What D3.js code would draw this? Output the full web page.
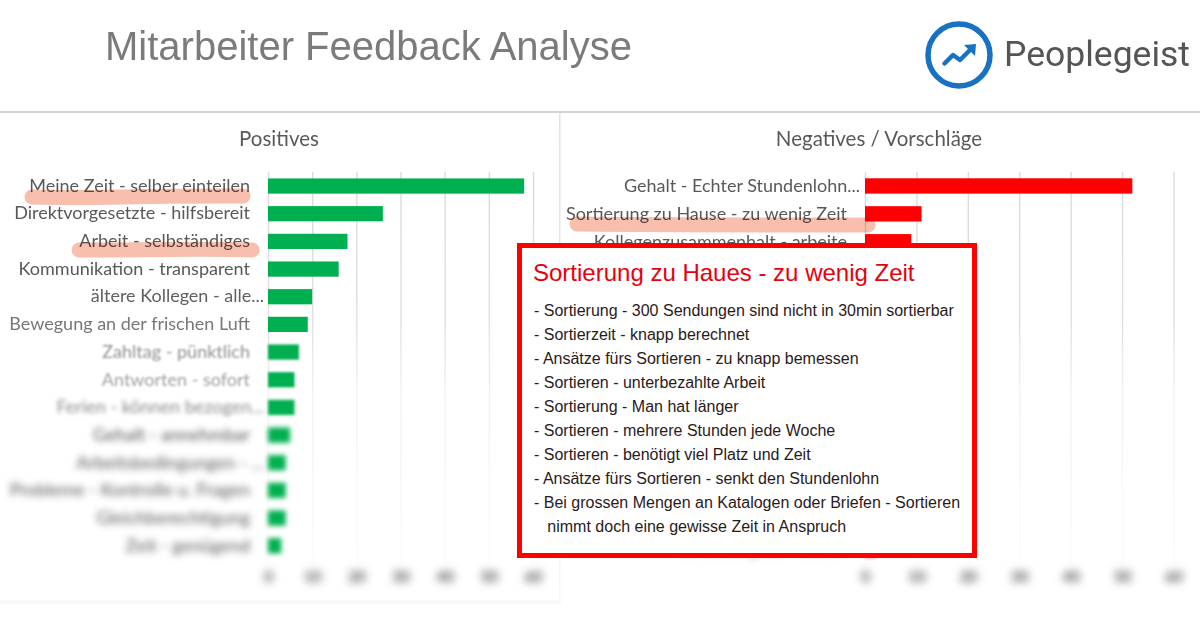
<!DOCTYPE html>
<html lang="de">
<head>
<meta charset="utf-8">
<title>Mitarbeiter Feedback Analyse</title>
<script src="https://cdn.jsdelivr.net/npm/d3@7/dist/d3.min.js"></script>
<style>
  html, body { margin: 0; padding: 0; background: #fff; }
  svg { display: block; }
  .cat { font-family: Lato, "Open Sans", sans-serif; font-size: 18px; }
  .panel-title { font-family: Lato, "Open Sans", sans-serif; font-size: 20.5px; fill: #595959; text-anchor: middle; }
  .detail { font-family: "Liberation Sans", Arial, sans-serif; font-size: 16px; fill: #2a1a1a; }
</style>
</head>
<body>
<div id="chart"></div>
<script>
// Positive mentions, most frequent first
const posCategories = [
  "Meine Zeit - selber einteilen", "Direktvorgesetzte - hilfsbereit", "Arbeit - selbständiges",
  "Kommunikation - transparent", "ältere Kollegen - alle...", "Bewegung an der frischen Luft",
  "Zahltag - pünktlich", "Antworten - sofort", "Ferien - können bezogen...",
  "Gehalt - annehmbar", "Arbeitsbedingungen - ...", "Probleme - Kontrolle u. Fragen",
  "Gleichberechtigung", "Zeit - genügend"
];
const posValues = [58, 26, 18, 16, 10, 9, 7, 6, 6, 5, 4, 4, 4, 3];
const posRows = d3.range(posCategories.length);

// Negative mentions that stay legible around the detail box, with their row positions
const negCategories = ["Gehalt - Echter Stundenlohn...", "Sortierung zu Hause - zu wenig Zeit", "Kollegenzusammenhalt - arbeite", "Einteilung der Touren"];
const negValues = [52, 11, 9, 2];
const negRows = [0, 1, 2, 13];

const axisTicks = [0, 10, 20, 30, 40, 50, 60];
const rowCount = 14;

const detailTitle = "Sortierung zu Haues - zu wenig Zeit";
const detailLines = [
  "- Sortierung - 300 Sendungen sind nicht in 30min sortierbar",
  "- Sortierzeit - knapp berechnet",
  "- Ansätze fürs Sortieren - zu knapp bemessen",
  "- Sortieren - unterbezahlte Arbeit",
  "- Sortierung - Man hat länger",
  "- Sortieren - mehrere Stunden jede Woche",
  "- Sortieren - benötigt viel Platz und Zeit",
  "- Ansätze fürs Sortieren - senkt den Stundenlohn",
  "- Bei grossen Mengen an Katalogen oder Briefen - Sortieren",
  "   nimmt doch eine gewisse Zeit in Anspruch"
];

// The lower rows of each panel are progressively obscured
const barBlur = [0, 0, 0, 0, 0.3, 0.7, 1, 1.3, 1.8, 2.4, 2.8, 2.8, 2.8, 2.8];
const textBlur = [0, 0, 0, 0, 0.3, 0.7, 1, 1.3, 2, 3, 3.5, 3.5, 3.5, 3.5];
const rowInk = ["#595959", "#595959", "#595959", "#595959", "#606060", "#777", "#909090", "#a0a0a0", "#888", "#555", "#555", "#555", "#555", "#555"];
const tickBlur = 4;

const svg = d3.select("#chart").append("svg").attr("width", 1200).attr("height", 628);
const defs = svg.append("defs");

function blurId(sd) { return "soft" + String(sd).replace(".", "_"); }
[...new Set([...barBlur, ...textBlur, tickBlur].filter(d => d > 0))].forEach(sd => {
  defs.append("filter").attr("id", blurId(sd))
    .attr("x", "-80%").attr("y", "-80%").attr("width", "260%").attr("height", "260%")
    .attr("color-interpolation-filters", "sRGB")
    .append("feGaussianBlur").attr("stdDeviation", sd);
});

// Gridline fade, in the coordinates of the axis group (zero at the axis, negative upward)
const gridFade = defs.append("linearGradient").attr("id", "gridFade")
  .attr("gradientUnits", "userSpaceOnUse").attr("x1", 0).attr("x2", 0).attr("y1", -393).attr("y2", 0);
gridFade.append("stop").attr("offset", "0").attr("stop-color", "#dadada");
gridFade.append("stop").attr("offset", "0.38").attr("stop-color", "#e0e0e0");
gridFade.append("stop").attr("offset", "0.56").attr("stop-color", "#f2f2f2");
gridFade.append("stop").attr("offset", "1").attr("stop-color", "#fbfbfb");

const edgeFade = defs.append("linearGradient").attr("id", "edgeFade")
  .attr("gradientUnits", "userSpaceOnUse").attr("x1", 0).attr("x2", 0).attr("y1", 113).attr("y2", 600);
edgeFade.append("stop").attr("offset", "0").attr("stop-color", "#e2e2e2");
edgeFade.append("stop").attr("offset", "0.6").attr("stop-color", "#eeeeee");
edgeFade.append("stop").attr("offset", "1").attr("stop-color", "#f8f8f8");

// Page heading
svg.append("text").attr("x", 105).attr("y", 60)
  .style("font-family", '"Liberation Sans", Arial, sans-serif').style("font-size", "40px").attr("fill", "#7b7b7b")
  .text("Mitarbeiter Feedback Analyse");

// Brand mark and name
const logo = svg.append("g");
logo.append("circle").attr("cx", 959).attr("cy", 55).attr("r", 31)
  .attr("fill", "none").attr("stroke", "#1872c4").attr("stroke-width", 5.5);
logo.append("path").attr("d", "M944.5 63.5 L953 55 L960 60 L970 50")
  .attr("fill", "none").attr("stroke", "#1872c4").attr("stroke-width", 4.5).attr("stroke-linecap", "round").attr("stroke-linejoin", "round");
logo.append("path").attr("d", "M964 45 L976 44 L975 56 Z").attr("fill", "#1872c4");
svg.append("text").attr("x", 1004).attr("y", 66)
  .style("font-family", "Roboto, sans-serif").style("font-size", "35.5px").attr("fill", "#555")
  .text("Peoplegeist");

// Sheet frame: top rule, panel divider, bottom edge
svg.append("rect").attr("x", 0).attr("y", 111).attr("width", 1200).attr("height", 2).attr("fill", "#d4d4d4");
svg.append("rect").attr("x", 559).attr("y", 113).attr("width", 1.5).attr("height", 487).attr("fill", "url(#edgeFade)");
svg.append("rect").attr("x", 0).attr("y", 600).attr("width", 561).attr("height", 4).attr("fill", "#f9f9f9");

function drawPanel(cfg) {
  const x = d3.scaleLinear().domain([0, 60]).range(cfg.xRange);
  const y = d3.scaleBand().domain(d3.range(rowCount)).range(cfg.yRange).paddingInner(0.45).paddingOuter(0.225);
  const g = svg.append("g");

  g.append("text").attr("class", "panel-title").attr("x", cfg.titleX).attr("y", 146).text(cfg.title);

  // Gridlines and tick labels come from one bottom axis
  const axisY = 565;
  const axis = g.append("g").attr("transform", `translate(0,${axisY})`)
    .call(d3.axisBottom(x).tickValues(axisTicks).tickSize(-(axisY - 172)).tickPadding(6));
  axis.select(".domain").remove();
  axis.selectAll(".tick line").attr("stroke", "url(#gridFade)").attr("stroke-width", 1.4);
  axis.selectAll(".tick text")
    .attr("fill", "#444").attr("filter", `url(#${blurId(tickBlur)})`)
    .style("font-family", "Lato, sans-serif").style("font-size", "15px").style("font-weight", "700");

  // Category labels
  const rows = cfg.categories.map((name, i) => ({ name, value: cfg.values[i], row: cfg.rows[i] }));
  const yAxis = g.append("g").attr("transform", `translate(${cfg.xRange[0]},0)`)
    .call(d3.axisLeft(y).tickValues(cfg.rows).tickSize(0).tickPadding(cfg.labelGap)
      .tickFormat(r => cfg.categories[cfg.rows.indexOf(r)]));
  yAxis.select(".domain").remove();
  yAxis.selectAll(".tick text")
    .attr("class", "cat")
    .attr("dx", r => cfg.categories[cfg.rows.indexOf(r)].endsWith("...") ? cfg.ellipsisShift : 0)
    .attr("fill", r => rowInk[r])
    .attr("filter", r => textBlur[r] ? `url(#${blurId(textBlur[r])})` : null);

  // Bars
  g.selectAll("rect.bar").data(rows).join("rect")
    .attr("class", "bar")
    .attr("x", x(0))
    .attr("y", d => y(d.row))
    .attr("width", d => x(d.value) - x(0))
    .attr("height", y.bandwidth())
    .attr("fill", cfg.color)
    .attr("filter", d => barBlur[d.row] ? `url(#${blurId(barBlur[d.row])})` : null);
}

drawPanel({
  title: "Positives", titleX: 279, color: "#00b050",
  categories: posCategories, values: posValues, rows: posRows,
  xRange: [268, 533], yRange: [172.2, 559.6], labelGap: 18, ellipsisShift: 14
});
drawPanel({
  title: "Negatives / Vorschläge", titleX: 879, color: "#ff0000",
  categories: negCategories, values: negValues, rows: negRows,
  xRange: [865, 1173.5], yRange: [172, 562.6], labelGap: 18, ellipsisShift: 13
});

// Marker strokes over the labels that are being discussed
const marker = d3.line().curve(d3.curveBasis);
const strokes = [
  [[32, 197], [90, 198], [170, 196], [243, 196]],
  [[79, 250], [140, 250], [200, 249], [252, 250]],
  [[577, 224], [680, 225], [780, 225], [868, 225]]
];
svg.selectAll("path.marker").data(strokes).join("path")
  .attr("class", "marker")
  .attr("d", marker)
  .attr("fill", "none")
  .attr("stroke", "#f8bfae")
  .attr("stroke-width", 15)
  .attr("stroke-linecap", "round")
  .style("mix-blend-mode", "multiply");

// Detail box for the highlighted negative topic
svg.append("rect").attr("x", 519.5).attr("y", 245.5).attr("width", 455).attr("height", 310)
  .attr("fill", "#fff").attr("stroke", "#ff0000").attr("stroke-width", 5);
svg.append("text").attr("x", 533).attr("y", 281)
  .style("font-family", '"Liberation Sans", Arial, sans-serif').style("font-size", "24px").attr("fill", "#e8000c")
  .text(detailTitle);
svg.selectAll("text.detail").data(detailLines).join("text")
  .attr("class", "detail")
  .attr("x", 534)
  .attr("y", (d, i) => 316 + i * 24)
  .style("white-space", "pre")
  .text(d => d);
</script>
</body>
</html>
